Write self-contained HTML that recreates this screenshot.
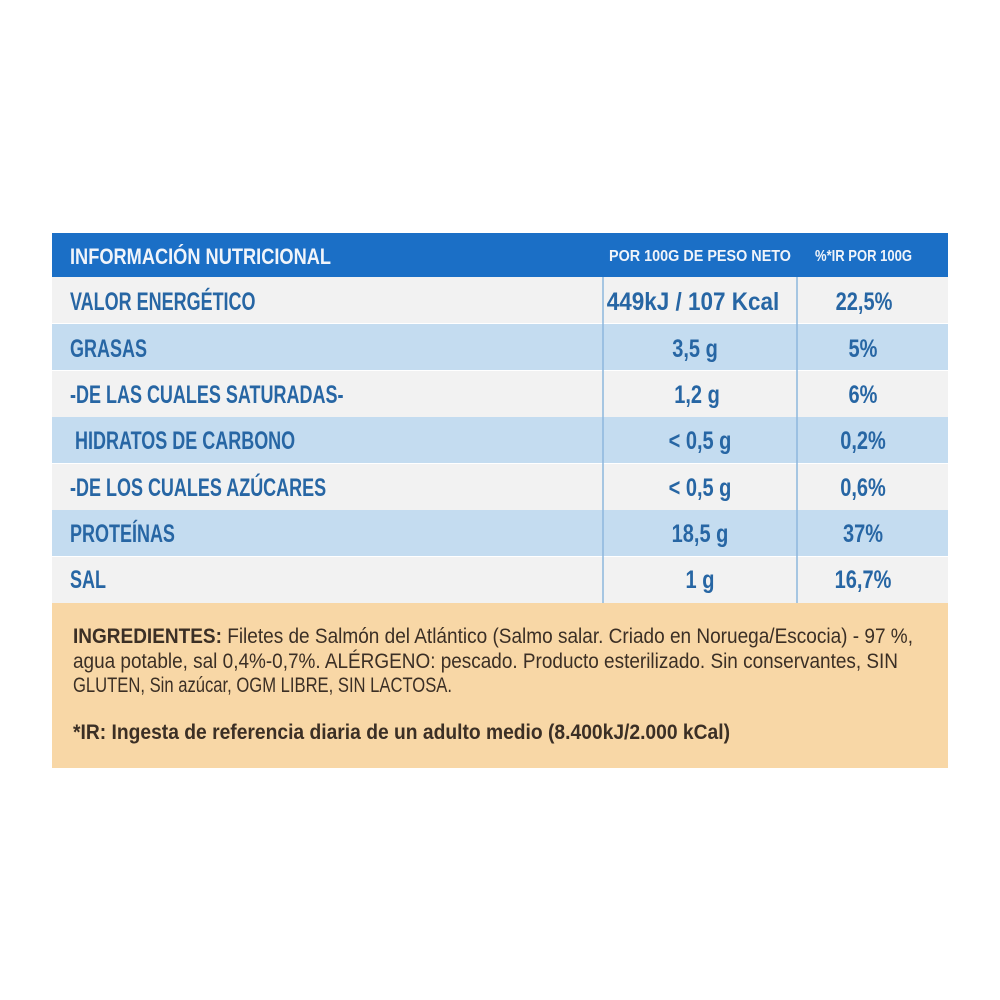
<!DOCTYPE html>
<html><head><meta charset="utf-8"><style>
html,body{margin:0;padding:0;background:#fff;}
svg{display:block;}
text{font-family:"Liberation Sans",sans-serif;}
.h{fill:#f0f4fa;font-weight:bold;}
.b{fill:#2766a4;font-weight:bold;font-size:25px;}
.o{fill:#3b2f25;font-size:21px;}
</style></head><body>
<svg width="1000" height="1000" viewBox="0 0 1000 1000">
<rect x="0" y="0" width="1000" height="1000" fill="#fff"/>
<rect x="52" y="233" width="896" height="44" fill="#1b6fc6"/>
<g>
<rect x="52" y="277" width="896" height="46" fill="#f2f2f2"/>
<rect x="52" y="324" width="896" height="46" fill="#c4dcf0"/>
<rect x="52" y="371" width="896" height="46" fill="#f2f2f2"/>
<rect x="52" y="417" width="896" height="46" fill="#c4dcf0"/>
<rect x="52" y="464" width="896" height="46" fill="#f2f2f2"/>
<rect x="52" y="510" width="896" height="46" fill="#c4dcf0"/>
<rect x="52" y="557" width="896" height="46" fill="#f2f2f2"/>
</g>
<line x1="603" y1="277" x2="603" y2="603" stroke="#8db7dd" stroke-width="1.5"/>
<line x1="797" y1="277" x2="797" y2="603" stroke="#8db7dd" stroke-width="1.5"/>
<rect x="52" y="603" width="896" height="165" fill="#f8d7a6"/>

<text class="h" x="70" y="264" font-size="22" textLength="261" lengthAdjust="spacingAndGlyphs">INFORMACIÓN NUTRICIONAL</text>
<text class="h" x="609" y="261" font-size="16" textLength="182" lengthAdjust="spacingAndGlyphs">POR 100G DE PESO NETO</text>
<text class="h" x="815" y="261" font-size="16" textLength="97" lengthAdjust="spacingAndGlyphs">%*IR POR 100G</text>

<text class="b" transform="translate(70,310) scale(0.72,1)">VALOR ENERGÉTICO</text>
<text class="b" transform="translate(70,357) scale(0.72,1)">GRASAS</text>
<text class="b" transform="translate(70,403) scale(0.72,1)">-DE LAS CUALES SATURADAS-</text>
<text class="b" transform="translate(75,449) scale(0.72,1)">HIDRATOS DE CARBONO</text>
<text class="b" transform="translate(70,496) scale(0.72,1)">-DE LOS CUALES AZÚCARES</text>
<text class="b" transform="translate(70,542) scale(0.72,1)">PROTEÍNAS</text>
<text class="b" transform="translate(70,588) scale(0.72,1)">SAL</text>

<g text-anchor="middle">
<text class="b" transform="translate(693,310) scale(0.9,1)">449kJ / 107 Kcal</text>
<text class="b" transform="translate(695,357) scale(0.8,1)">3,5 g</text>
<text class="b" transform="translate(697,403) scale(0.8,1)">1,2 g</text>
<text class="b" transform="translate(700,449) scale(0.8,1)">&lt; 0,5 g</text>
<text class="b" transform="translate(700,496) scale(0.8,1)">&lt; 0,5 g</text>
<text class="b" transform="translate(700,542) scale(0.8,1)">18,5 g</text>
<text class="b" transform="translate(700,588) scale(0.8,1)">1 g</text>

<text class="b" transform="translate(864,310) scale(0.8,1)">22,5%</text>
<text class="b" transform="translate(863,357) scale(0.8,1)">5%</text>
<text class="b" transform="translate(863,403) scale(0.8,1)">6%</text>
<text class="b" transform="translate(863,449) scale(0.8,1)">0,2%</text>
<text class="b" transform="translate(863,496) scale(0.8,1)">0,6%</text>
<text class="b" transform="translate(863,542) scale(0.8,1)">37%</text>
<text class="b" transform="translate(863,588) scale(0.8,1)">16,7%</text>
</g>

<text class="o" x="73" y="643" textLength="840" lengthAdjust="spacingAndGlyphs"><tspan font-weight="bold">INGREDIENTES:</tspan> Filetes de Salmón del Atlántico (Salmo salar. Criado en Noruega/Escocia) - 97 %,</text>
<text class="o" x="73" y="668" textLength="825" lengthAdjust="spacingAndGlyphs">agua potable, sal 0,4%-0,7%. ALÉRGENO: pescado. Producto esterilizado. Sin conservantes, SIN</text>
<text class="o" x="73" y="692" textLength="379" lengthAdjust="spacingAndGlyphs">GLUTEN, Sin azúcar, OGM LIBRE, SIN LACTOSA.</text>
<text class="o" font-weight="bold" x="73" y="739" textLength="657" lengthAdjust="spacingAndGlyphs">*IR: Ingesta de referencia diaria de un adulto medio (8.400kJ/2.000 kCal)</text>
</svg>
</body></html>
